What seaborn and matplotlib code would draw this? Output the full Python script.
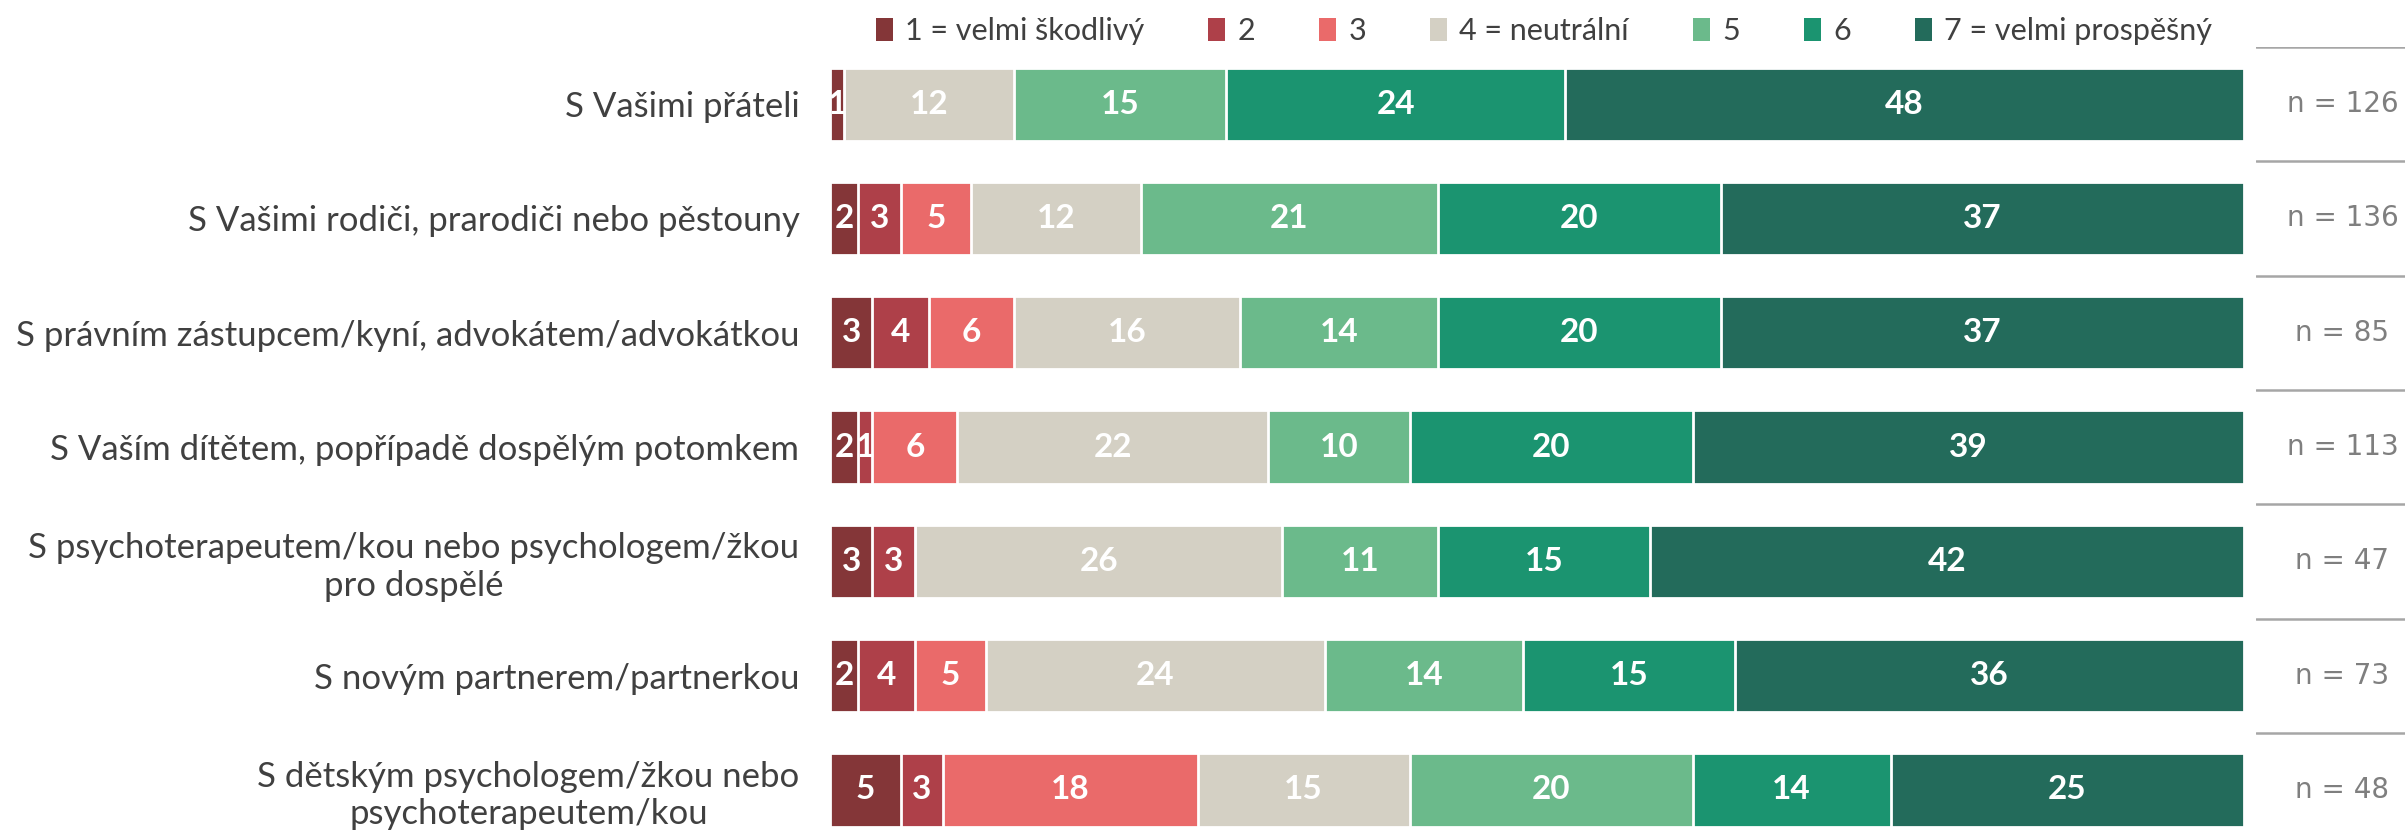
import matplotlib
matplotlib.use("Agg")
import matplotlib.pyplot as plt
from matplotlib.patches import Patch
import seaborn as sns
import numpy as np
import pandas as pd

# --- data ---
categories = [
    "S Vašimi přáteli",
    "S Vašimi rodiči, prarodiči nebo pěstouny",
    "S právním zástupcem/kyní, advokátem/advokátkou",
    "S Vaším dítětem, popřípadě dospělým potomkem",
    "S psychoterapeutem/kou nebo psychologem/žkou\npro dospělé",
    "S novým partnerem/partnerkou",
    "S dětským psychologem/žkou nebo\npsychoterapeutem/kou",
]
level_names = ["1 = velmi škodlivý", "2", "3", "4 = neutrální", "5", "6", "7 = velmi prospěšný"]
lvl1 = [1, 2, 3, 2, 3, 2, 5]
lvl2 = [0, 3, 4, 1, 3, 4, 3]
lvl3 = [0, 5, 6, 6, 0, 5, 18]
lvl4 = [12, 12, 16, 22, 26, 24, 15]
lvl5 = [15, 21, 14, 10, 11, 14, 20]
lvl6 = [24, 20, 20, 20, 15, 15, 14]
lvl7 = [48, 37, 37, 39, 42, 36, 25]
n_values = [126, 136, 85, 113, 47, 73, 48]

colors = ["#843638", "#AE4049", "#EA6A6A", "#D4D0C4", "#6BBA8B", "#1B9470", "#236B5B"]

sns.set_style("white")
plt.rcParams["font.family"] = ["Lato", "DejaVu Sans"]

levels = [lvl1, lvl2, lvl3, lvl4, lvl5, lvl6, lvl7]
df = pd.DataFrame({"cat": categories})
cum = np.zeros(len(categories))
starts = []
for i, lv in enumerate(levels):
    starts.append(cum.copy())
    cum = cum + np.array(lv)
    df[f"cum{i + 1}"] = cum

W, H = 2405, 840
fig = plt.figure(figsize=(W / 100, H / 100), dpi=100)
ax = fig.add_axes([830 / W, 0, (2244 - 830) / W, 1 - 47 / H])

# stacked bars: draw cumulative sums from widest to narrowest
for i in range(6, -1, -1):
    sns.barplot(data=df, x=f"cum{i + 1}", y="cat", orient="h", color=colors[i],
                width=0.64, edgecolor="white", linewidth=2, saturation=1, ax=ax)

for i, lv in enumerate(levels):
    for r, v in enumerate(lv):
        if v > 0:
            ax.text(starts[i][r] + v / 2, r, f"{v}", ha="center", va="center",
                    color="white", fontsize=24, fontweight="bold")

ax.set_xlim(0, 100)
ax.set_ylim(-0.5 + (H - 47) / 114.3, -0.5)
ax.set_xlabel("")
ax.set_ylabel("")
ax.set_xticks([])
ax.tick_params(axis="y", length=0, pad=22)
for t in ax.get_yticklabels():
    t.set_fontsize(25)
    t.set_color("#404040")
    t.set_multialignment("center")
sns.despine(ax=ax, left=True, bottom=True)

# right column with n
ax2 = fig.add_axes([2256 / W, 0, (W - 2256) / W, 1 - 47 / H], sharey=ax)
ax2.set_xlim(0, 1)
for r in range(len(categories)):
    ax2.axhline(r - 0.5, color="#A6A6A6", linewidth=1.8)
    ax2.text(0.58, r, f"n = {n_values[r]}", ha="center", va="center",
             color="#7F7F7F", fontsize=20, family=["DejaVu Sans"])
ax2.axis("off")

handles = [Patch(facecolor=c, edgecolor="none") for c in colors]
fig.legend(handles, level_names, loc="center", bbox_to_anchor=(1544 / W, 1 - 31 / H),
           ncol=7, frameon=False, fontsize=22, handlelength=0.55, handleheight=0.8,
           handletextpad=0.4, columnspacing=2.1, labelcolor="#404040")

fig.savefig("out.png", dpi=100)
